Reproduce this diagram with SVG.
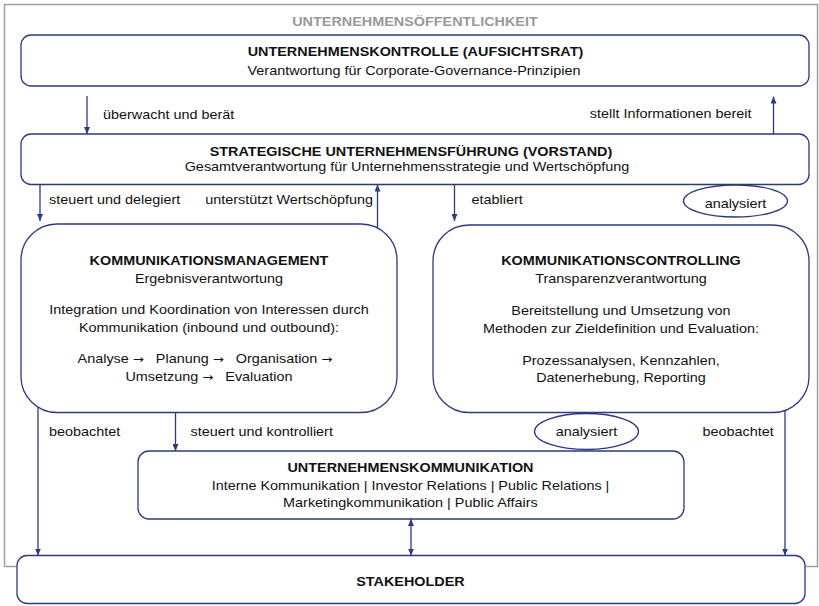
<svg xmlns="http://www.w3.org/2000/svg" width="819" height="606" viewBox="0 0 819 606">
<defs>
<style>
.t{font-family:"Liberation Sans",Arial,Helvetica,sans-serif;font-size:12px;fill:#111;transform-box:fill-box;transform:scaleX(1.2);}
.m{text-anchor:middle;transform-origin:center;}
.s{text-anchor:start;transform-origin:left;}
.e{text-anchor:end;transform-origin:right;}
.b{font-weight:bold;}
.g{fill:#999;}
.ar{font-family:"DejaVu Sans",sans-serif;font-size:11px;}
.box{fill:#fff;stroke:#2d3a80;stroke-width:1.3;}
.c{fill:none;stroke:#2d3a80;stroke-width:1.3;}
</style>
<marker id="ah" viewBox="0 0 7 6" refX="7" refY="3" markerWidth="7" markerHeight="6" markerUnits="userSpaceOnUse" orient="auto-start-reverse">
<path d="M0,0 L7,3 L0,6 z" fill="#2d3a80"/>
</marker>
</defs>
<rect id="frame" x="4.5" y="4.5" width="813" height="562" fill="none" stroke="#a0a0a0" stroke-width="1.5"/>
<text class="t m b g" x="415" y="26.5">UNTERNEHMENSÖFFENTLICHKEIT</text>

<g id="connectors">
<path class="c" d="M87,96 L87,134" marker-end="url(#ah)"/>
<path class="c" d="M773.5,134 L773.5,96.5" marker-end="url(#ah)"/>
<path class="c" d="M40,184.5 L40,221" marker-end="url(#ah)"/>
<path class="c" d="M377.5,228 L377.5,184.5" marker-end="url(#ah)"/>
<path class="c" d="M454.5,184.5 L454.5,221" marker-end="url(#ah)"/>
<path class="c" d="M38,407 L38,555.5" marker-end="url(#ah)"/>
<path class="c" d="M175.5,412.5 L175.5,451" marker-end="url(#ah)"/>
<path class="c" d="M411,519 L411,555.5" marker-start="url(#ah)" marker-end="url(#ah)"/>
<path class="c" d="M785,410.5 L785,555.5" marker-end="url(#ah)"/>
<text class="t s" x="103" y="119">überwacht und berät</text>
<text class="t e" x="751.5" y="118.5">stellt Informationen bereit</text>
<text class="t s" x="49" y="204">steuert und delegiert</text>
<text class="t e" x="373" y="204">unterstützt Wertschöpfung</text>
<text class="t s" x="471.5" y="204">etabliert</text>
<text class="t s" x="49" y="436">beobachtet</text>
<text class="t s" x="190.5" y="436">steuert und kontrolliert</text>
<text class="t s" x="702.5" y="436">beobachtet</text>
</g>

<g id="aufsichtsrat">
<rect class="box" x="21" y="35" width="788" height="51" rx="10"/>
<text class="t m b" x="415.5" y="56">UNTERNEHMENSKONTROLLE (AUFSICHTSRAT)</text>
<text class="t m" x="414" y="75">Verantwortung für Corporate-Governance-Prinzipien</text>
</g>

<g id="vorstand">
<rect class="box" x="21" y="134" width="788" height="50.5" rx="10"/>
<text class="t m b" x="411" y="156.5">STRATEGISCHE UNTERNEHMENSFÜHRUNG (VORSTAND)</text>
<text class="t m" x="407" y="171">Gesamtverantwortung für Unternehmensstrategie und Wertschöpfung</text>
</g>

<g id="analysiert1">
<ellipse class="box" cx="735.5" cy="201" rx="52" ry="16"/>
<text class="t m" x="735.5" y="208.5">analysiert</text>
</g>

<g id="kommunikationsmanagement">
<rect class="box" x="21" y="224" width="376" height="188.5" rx="36"/>
<text class="t m b" x="209" y="265">KOMMUNIKATIONSMANAGEMENT</text>
<text class="t m" x="209" y="283.5">Ergebnisverantwortung</text>
<text class="t m" x="209" y="314.5">Integration und Koordination von Interessen durch</text>
<text class="t m" x="209" y="332.5">Kommunikation (inbound und outbound):</text>
<text class="t m" x="205" y="363.5">Analyse <tspan class="ar">→</tspan>&#160;&#160; Planung <tspan class="ar">→</tspan>&#160;&#160; Organisation <tspan class="ar">→</tspan></text>
<text class="t m" x="209" y="381.5">Umsetzung <tspan class="ar">→</tspan>&#160;&#160; Evaluation</text>
</g>

<g id="kommunikationscontrolling">
<rect class="box" x="433" y="225" width="376" height="187.5" rx="36"/>
<text class="t m b" x="621" y="265.5">KOMMUNIKATIONSCONTROLLING</text>
<text class="t m" x="621" y="283.5">Transparenzverantwortung</text>
<text class="t m" x="621" y="315">Bereitstellung und Umsetzung von</text>
<text class="t m" x="621" y="333">Methoden zur Zieldefinition und Evaluation:</text>
<text class="t m" x="621" y="365">Prozessanalysen, Kennzahlen,</text>
<text class="t m" x="621" y="382">Datenerhebung, Reporting</text>
</g>

<g id="analysiert2">
<ellipse class="box" cx="586.5" cy="431.5" rx="52" ry="18"/>
<text class="t m" x="586.5" y="436.5">analysiert</text>
</g>

<g id="unternehmenskommunikation">
<rect class="box" x="138" y="451" width="546" height="68" rx="11"/>
<text class="t m b" x="410.5" y="472.5">UNTERNEHMENSKOMMUNIKATION</text>
<text class="t m" x="410.5" y="490">Interne Kommunikation | Investor Relations | Public Relations |</text>
<text class="t m" x="410.5" y="507.5">Marketingkommunikation | Public Affairs</text>
</g>

<g id="stakeholder">
<rect class="box" x="17" y="555.5" width="788" height="48" rx="10"/>
<text class="t m b" x="410.5" y="586">STAKEHOLDER</text>
</g>
</svg>
